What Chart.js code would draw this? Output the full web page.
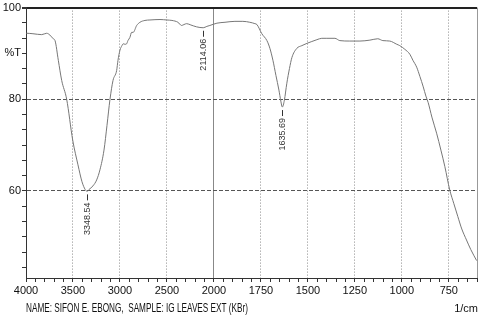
<!DOCTYPE html>
<html><head><meta charset="utf-8">
<script src="https://cdn.jsdelivr.net/npm/chart.js@4.4.1/dist/chart.umd.min.js"></script>
<style>html,body{margin:0;padding:0;background:#fff;}canvas{display:block;}</style>
</head><body>
<canvas id="c" width="493" height="320"></canvas>
<script>
// ---- data ----
const wavenumbers = [4000,3993,3926,3833,3780,3745,3710,3691,3656,3620,3567,3503,3447,3404,3370,3349,3330,3287,3248,3213,3170,3138,3106,3074,3035,3021,3000,2979,2965,2947,2929,2915,2894,2876,2859,2822,2787,2734,2681,2574,2503,2447,2383,2344,2319,2290,2245,2184,2114,2075,2043,1984,1941,1888,1846,1809,1782,1771,1745,1718,1702,1686,1670,1654,1644,1636,1625,1612,1598,1585,1559,1532,1505,1479,1452,1426,1399,1356,1330,1277,1223,1170,1128,1101,1064,1027,1011,984,957,941,921,904,886,872,860,840,815,792,771,745,723,702,681,656,633,602];
const transmittance = [94.4,94.4,94.3,94.1,94.4,94.0,93.2,92.8,88.5,84.1,80.0,71.1,65.7,62.0,60.3,59.9,60.3,61.1,62.4,64.6,68.9,74.3,80.0,84.1,86.3,88.5,90.7,91.7,92.1,92.0,92.1,92.8,93.5,94.6,94.6,96.1,96.8,97.2,97.3,97.4,97.3,97.2,96.8,96.1,96.3,96.5,96.2,95.8,95.6,95.9,96.1,96.6,96.8,97.0,97.0,96.8,96.5,96.3,94.3,92.8,91.1,88.5,85.2,82.0,79.6,78.3,79.8,83.5,86.7,89.1,91.1,91.7,92.2,92.6,93.0,93.3,93.3,93.3,92.8,92.7,92.7,92.9,93.2,92.8,92.7,92.0,91.7,90.9,89.8,88.5,87.0,85.0,82.7,80.7,79.3,76.1,72.6,68.9,65.3,60.2,57.2,54.4,51.7,49.3,47.2,44.8];
const xMajorTicks = [4000,3500,3000,2500,2000,1750,1500,1250,1000,750];
const yMajorTicks = [100,90,80,60];
const yTickLabels = ['100','%T','80','60'];
const peakWavenumbers = [3348.54, 2114.06, 1635.69];
const peakTransmittance = [59.9, 95.6, 78.3];
const peakLabels = ['3348.54','2114.06','1635.69'];
const xAxisUnit = '1/cm';
const sampleCaption = 'NAME: SIFON E. EBONG,  SAMPLE: IG LEAVES EXT (KBr)';
const X_MAX = 4000, X_BREAK = 2000, X_MIN = 600, Y_MIN = 41, Y_MAX = 100;

// ---- wavenumber axis with the usual 2:1 compression above 2000 ----
class BrokenScale extends Chart.LinearScale {
  _u(v) { return v >= X_BREAK ? (X_MAX - v) / 2 : (X_MAX - X_BREAK) / 2 + (X_BREAK - v); }
  getPixelForValue(v) { return this.left + this.width * this._u(v) / this._u(X_MIN); }
  getValueForPixel(p) {
    const u = (p - this.left) / this.width * this._u(X_MIN);
    const ub = (X_MAX - X_BREAK) / 2;
    return u <= ub ? X_MAX - 2 * u : X_BREAK - (u - ub);
  }
  buildTicks() {
    const vals = [];
    for (let v = X_MAX; v >= X_BREAK; v -= 100) vals.push(v);
    for (let v = X_BREAK - 50; v >= X_MIN; v -= 50) vals.push(v);
    return vals.map(v => ({value: v}));
  }
}
BrokenScale.id = 'broken';
BrokenScale.defaults = Chart.LinearScale.defaults;
Chart.register(BrokenScale);

const yMinor = [];
for (let i = 0; ; i++) { const v = Y_MAX - i * 10 / 3; if (v < Y_MIN) break; yMinor.push(+v.toFixed(3)); }

const FONT = {family: "'Liberation Sans Narrow', 'Liberation Sans', Arial, sans-serif", size: 11};
const isMajorX = v => xMajorTicks.includes(v);

const annot = {
  id: 'annot',
  afterDraw(chart) {
    const ctx = chart.ctx, xs = chart.scales.x, ys = chart.scales.y;
    ctx.save();
    ctx.strokeStyle = '#333'; ctx.fillStyle = '#333'; ctx.lineWidth = 1;
    ctx.font = "9px 'Liberation Sans', Arial, sans-serif";
    peakWavenumbers.forEach((w, i) => {
      const px = Math.round(xs.getPixelForValue(w)) + 0.5;
      const py = ys.getPixelForValue(peakTransmittance[i]);
      ctx.beginPath(); ctx.moveTo(px, py + 3); ctx.lineTo(px, py + 9); ctx.stroke();
      ctx.save(); ctx.translate(px, py + 11); ctx.rotate(-Math.PI / 2);
      ctx.textAlign = 'right'; ctx.textBaseline = 'middle';
      ctx.fillText(peakLabels[i], 0, 0); ctx.restore();
    });
    ctx.fillStyle = '#111';
    ctx.font = "11px 'Liberation Sans Narrow', Arial, sans-serif";
    ctx.textAlign = 'right'; ctx.textBaseline = 'alphabetic';
    ctx.fillText(xAxisUnit, 478, 312);
    ctx.font = "13px 'Liberation Sans Narrow', Arial, sans-serif";
    ctx.textAlign = 'left';
    const w = ctx.measureText(sampleCaption).width;
    ctx.save(); ctx.translate(26, 312); ctx.scale(222 / w, 1);
    ctx.fillText(sampleCaption, 0, 0); ctx.restore();
    ctx.restore();
  }
};

new Chart(document.getElementById('c'), {
  type: 'line',
  data: {
    datasets: [{
      data: wavenumbers.map((w, i) => ({x: w, y: transmittance[i]})),
      borderColor: '#777', borderWidth: 1, pointRadius: 0,
      cubicInterpolationMode: 'monotone', fill: false
    }]
  },
  options: {
    responsive: false, animation: false, devicePixelRatio: 1,
    layout: {padding: {left: 0, right: 16, top: 7, bottom: 0}},
    plugins: {legend: {display: false}, tooltip: {enabled: false}},
    scales: {
      x: {
        type: 'broken', min: X_MIN, max: X_MAX,
        afterFit: s => { s.height = 42; },
        border: {display: true, color: '#333', width: 1,
          dash: c => (c.tick && (c.tick.value === X_BREAK || c.tick.value === X_MIN)) ? [] : [1, 2]},
        grid: {
          color: c => { const v = c.tick && c.tick.value;
            if (v === X_MAX) return 'rgba(0,0,0,0)';
            if (v === X_MIN) return '#999';
            if (v === X_BREAK) return '#888';
            return isMajorX(v) ? '#8a8a8a' : 'rgba(0,0,0,0)'; },
          tickColor: '#333', tickLength: 4, lineWidth: 1
        },
        ticks: {
          autoSkip: false, maxRotation: 0, minRotation: 0, padding: 2,
          color: '#111', font: FONT,
          callback: v => isMajorX(v) ? String(v) : ''
        }
      },
      y: {
        type: 'linear', min: Y_MIN, max: Y_MAX,
        afterFit: s => { s.width = 26; },
        afterBuildTicks: s => { s.ticks = yMinor.map(v => ({value: v})); },
        border: {display: true, color: '#333', width: 1,
          dash: c => (c.tick && (c.tick.value === 80 || c.tick.value === 60)) ? [4, 2] : []},
        grid: {
          color: c => { const v = c.tick && c.tick.value;
            if (v === 100) return '#222';
            if (v === 80 || v === 60) return '#555';
            return 'rgba(0,0,0,0)'; },
          lineWidth: c => (c.tick && c.tick.value === 100) ? 2 : 1,
          tickColor: '#333', tickLength: 4
        },
        ticks: {
          autoSkip: false, padding: 1, color: '#111', font: FONT,
          callback: v => { const k = yMajorTicks.findIndex(m => Math.abs(m - v) < 0.01); return k >= 0 ? yTickLabels[k] : ''; }
        }
      }
    }
  },
  plugins: [annot]
});
</script>
</body></html>
